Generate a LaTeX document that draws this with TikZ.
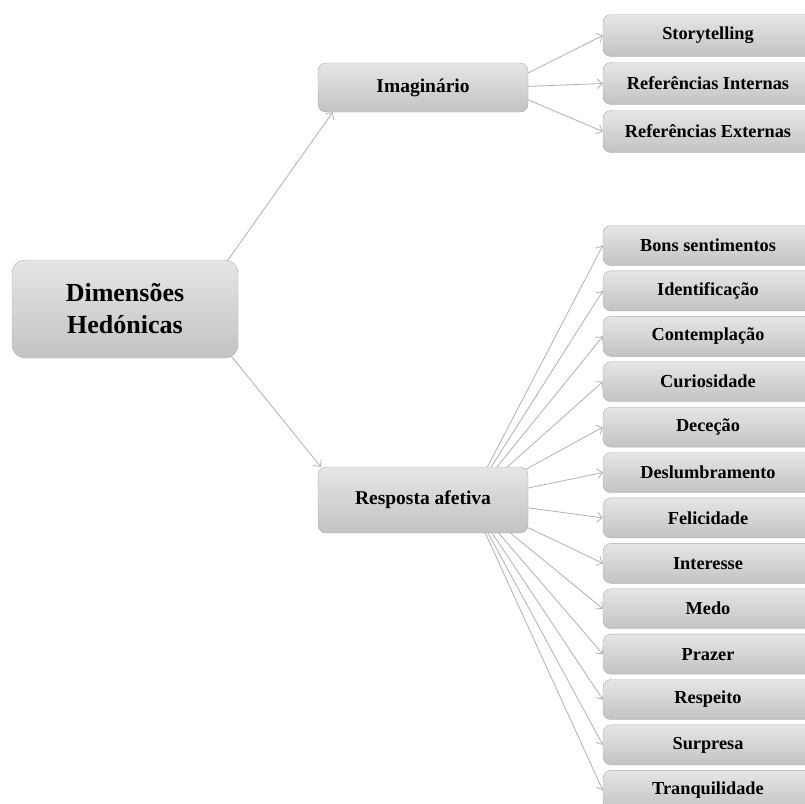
\documentclass[tikz,border=0pt]{standalone}
\usepackage{fontspec}
\setmainfont{Liberation Serif}
\usetikzlibrary{arrows.meta,calc,backgrounds}
\begin{document}
\begin{tikzpicture}[x=1pt, y=-1pt, >={Straight Barb[length=5pt,width=10pt]}, line join=round, line cap=round]
	\tikzset{caixa/.style={draw=gray!65, top color=gray!20, bottom color=gray!47, rounded corners=8pt, inner sep=0pt, align=center, minimum width=210pt},
		folha/.style={caixa, font=\bfseries\fontsize{18.3}{20}\selectfont},
		liga/.style={draw=gray!62, line width=.8pt, ->}}
	\useasboundingbox (0,0) rectangle (805,803);
	\node[caixa, rounded corners=13pt, minimum width=226pt, minimum height=98pt, font=\bfseries\fontsize{26}{32}\selectfont] (dh) at (125,309) {Dimensões\\Hedónicas};
	\node[caixa, minimum height=49pt, font=\bfseries\fontsize{19.5}{22}\selectfont] (im) at (423,87.5) {Imaginário};
	\node[caixa, minimum height=66pt, font=\bfseries\fontsize{19.5}{22}\selectfont] (ra) at (423,500) {Resposta afetiva};
	\foreach \n/\t [count=\i from 0] in {st/Storytelling, ri/Referências Internas, re/Referências Externas}{
		\node[folha, minimum height=42pt] (\n) at (708,35.5+48*\i) {\t};
	}
	\foreach \n/\t [count=\i from 0] in {bs/Bons sentimentos, id/Identificação, co/Contemplação, cu/Curiosidade, de/Deceção, dl/Deslumbramento, fe/Felicidade, it/Interesse, me/Medo, pr/Prazer, rp/Respeito, su/Surpresa, tr/Tranquilidade}{
		\node[folha, minimum height=40pt] (\n) at (708,245.5+45.4*\i) {\t};
	}
	\begin{scope}[on background layer]
		\coordinate (dh0) at ($(dh.east)+(-45,0)$);
		\coordinate (im0) at ($(im.east)+(-29,0)$);
		\coordinate (ra0) at ($(ra.east)+(-58,0)$);
		\draw[liga] (dh0) -- ($(im.south west)+(15,0)$);
		\draw[liga] (dh0) -- ($(ra.north west)+(3,0)$);
		\foreach \n in {st,ri,re}{
			\draw[liga] (im0) -- (\n.west);
		}
		\foreach \n in {bs,id,co,cu,de,dl,fe,it,me,pr,rp,su,tr}{
			\draw[liga] (ra0) -- (\n.west);
		}
	\end{scope}
\end{tikzpicture}
\end{document}
